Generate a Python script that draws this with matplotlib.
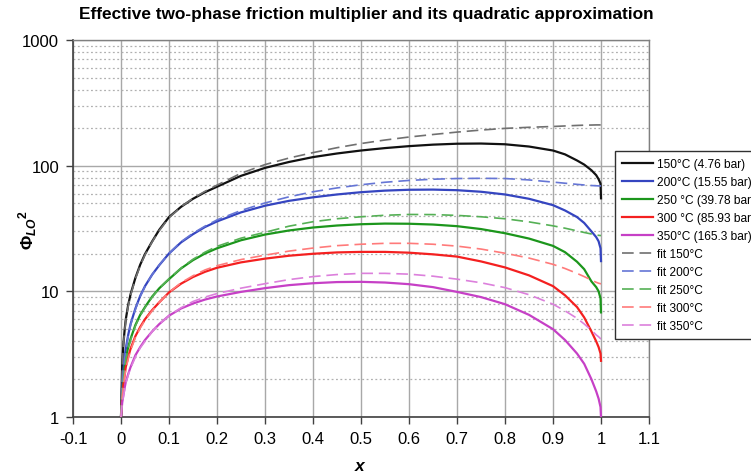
import matplotlib
matplotlib.use("Agg")
import matplotlib.pyplot as plt
from matplotlib.ticker import FixedLocator, LogLocator, NullFormatter

plt.rcParams["font.family"] = ["Liberation Sans", "DejaVu Sans"]
plt.rcParams["mathtext.fontset"] = "custom"
plt.rcParams["mathtext.rm"] = "Liberation Sans:bold"
plt.rcParams["mathtext.it"] = "Liberation Sans:bold:italic"
plt.rcParams["mathtext.bf"] = "Liberation Sans:bold"

# Vapour quality grid (refined near both ends)
x_q = [0, 0.0025, 0.005, 0.0075, 0.01, 0.015, 0.02, 0.03, 0.04, 0.05,
       0.065, 0.08, 0.1, 0.125, 0.15, 0.175, 0.2, 0.25, 0.3, 0.35,
       0.4, 0.45, 0.5, 0.55, 0.6, 0.65, 0.7, 0.75, 0.8, 0.85,
       0.9, 0.925, 0.95, 0.965, 0.98, 0.99, 0.995, 0.999, 1.0]

# Two-phase friction multiplier, full correlation
phi_150 = [1, 2.6, 3.8, 4.9, 6.0, 7.8, 9.5, 12.8, 16.3, 19.8,
           25, 31, 39, 47, 54.5, 61.5, 68, 83, 96, 107,
           117, 125, 132, 138, 143, 147, 149.5, 150, 148, 142,
           132, 123, 110, 102, 92, 84, 78, 72, 55]
phi_200 = [1, 1.8, 2.4, 3.0, 3.5, 4.5, 5.5, 7.3, 9.2, 11,
           13.6, 16.2, 20, 24.5, 28.5, 32.5, 36, 42.5, 48, 52.5,
           56, 59, 61.5, 63.3, 64.3, 64.5, 63.8, 62, 59, 54.5,
           48.5, 44, 39, 35, 30, 27, 25, 22, 17.4]
phi_250 = [1, 1.6, 2.0, 2.5, 2.9, 3.6, 4.2, 5.4, 6.5, 7.5,
           9.1, 10.6, 12.5, 15.2, 17.7, 20, 22, 25.5, 28.3, 30.5,
           32.2, 33.4, 34.2, 34.6, 34.5, 34, 33, 31.3, 29, 26.3,
           23, 20.5, 17.2, 15, 12, 10.8, 10, 8.8, 6.8]
phi_300 = [1, 1.5, 1.8, 2.15, 2.5, 3.0, 3.5, 4.4, 5.2, 6.0,
           7.1, 8.2, 9.8, 11.5, 13, 14.3, 15.4, 17, 18.2, 19.2,
           19.9, 20.4, 20.6, 20.6, 20.3, 19.7, 18.9, 17.3, 15.5, 13.4,
           11, 9.3, 7.5, 6.2, 4.8, 4.0, 3.6, 3.2, 2.8]
phi_350 = [1, 1.3, 1.5, 1.7, 1.9, 2.2, 2.5, 3.1, 3.6, 4.1,
           4.8, 5.5, 6.4, 7.3, 8.0, 8.6, 9.1, 9.9, 10.6, 11.2,
           11.6, 11.85, 11.9, 11.75, 11.4, 10.8, 9.9, 9.0, 7.9, 6.5,
           5.0, 4.1, 3.2, 2.65, 2.0, 1.6, 1.4, 1.2, 1.0]

# Quadratic approximation
fit_150 = [1, 2.5, 3.7, 4.8, 5.9, 7.6, 9.3, 12.6, 16, 19.5,
           24.8, 30.5, 38.5, 47, 55, 62.5, 70, 87, 102, 115,
           127, 139, 150, 160, 169, 177, 185, 192, 198, 202,
           205, 207, 209, 210, 210.5, 211, 211, 211, 211]
fit_200 = [1, 1.75, 2.35, 2.9, 3.4, 4.4, 5.4, 7.2, 9.1, 10.9,
           13.6, 16.3, 20, 24.8, 29, 33, 37, 44, 50.5, 56.5,
           62, 66.5, 70.5, 73.8, 76.3, 78, 79, 79.3, 79, 77,
           74, 72.5, 71, 70.2, 69.5, 69.2, 69, 69, 69]
fit_250 = [1, 1.55, 1.95, 2.45, 2.85, 3.5, 4.1, 5.3, 6.4, 7.4,
           9.0, 10.6, 12.6, 15.3, 18, 20.5, 22.8, 26.5, 29.5, 33,
           35.8, 37.8, 39.2, 40.3, 40.9, 40.8, 40.2, 39.2, 37.8, 35.7,
           33.2, 31.8, 30.3, 29.4, 28.6, 28.1, 27.9, 27.8, 27.8]
fit_300 = [1, 1.45, 1.75, 2.1, 2.4, 2.9, 3.4, 4.3, 5.1, 5.9,
           7.0, 8.2, 9.8, 11.7, 13.3, 14.8, 16, 17.9, 19.4, 20.9,
           22.1, 23.1, 23.7, 24.1, 24.1, 23.7, 22.9, 21.7, 20.1, 18.4,
           16.4, 15.2, 13.9, 13.1, 12.3, 11.8, 11.6, 11.5, 11.5]
fit_350 = [1, 1.28, 1.45, 1.65, 1.85, 2.15, 2.45, 3.0, 3.55, 4.0,
           4.8, 5.5, 6.4, 7.4, 8.3, 9.0, 9.6, 10.6, 11.5, 12.4,
           13.1, 13.6, 13.9, 13.9, 13.7, 13.2, 12.5, 11.7, 10.7, 9.4,
           7.9, 7.0, 6.1, 5.5, 4.9, 4.5, 4.35, 4.2, 4.2]

labels_model = ["150°C (4.76 bar)", "200°C (15.55 bar)", "250 °C (39.78 bar)",
                "300 °C (85.93 bar)", "350°C (165.3 bar)"]
labels_fit = ["fit 150°C", "fit 200°C", "fit 250°C", "fit 300°C", "fit 350°C"]

x_ticks = [-0.1, 0, 0.1, 0.2, 0.3, 0.4, 0.5, 0.6, 0.7, 0.8, 0.9, 1.0, 1.1]
x_tick_labels = ["-0.1", "0", "0.1", "0.2", "0.3", "0.4", "0.5", "0.6",
                 "0.7", "0.8", "0.9", "1", "1.1"]
y_ticks = [1, 10, 100, 1000]
y_tick_labels = ["1", "10", "100", "1000"]

model_colors = ["#111111", "#3545c0", "#1c961c", "#f42020", "#c640c6"]
fit_colors = ["#707070", "#6575d5", "#55b055", "#ff7a7a", "#dc80dc"]

fig = plt.figure(figsize=(7.51, 4.77), dpi=100)
ax = fig.add_axes([73 / 751, 1 - 418 / 477, (649 - 73) / 751, (418 - 41) / 477])

series_model = [phi_150, phi_200, phi_250, phi_300, phi_350]
series_fit = [fit_150, fit_200, fit_250, fit_300, fit_350]

handles = []
for ys, c, lab in zip(series_model, model_colors, labels_model):
    h, = ax.plot(x_q, ys, color=c, lw=1.6, label=lab, zorder=3)
    handles.append(h)
for ys, c, lab in zip(series_fit, fit_colors, labels_fit):
    h, = ax.plot(x_q, ys, color=c, lw=1.2, dashes=(7, 3.5), label=lab, zorder=4)
    handles.append(h)

ax.set_yscale("log")
ax.set_xlim(-0.1, 1.1)
ax.set_ylim(1, 1000)
ax.xaxis.set_major_locator(FixedLocator(x_ticks))
ax.set_xticklabels(x_tick_labels)
ax.yaxis.set_major_locator(FixedLocator(y_ticks))
ax.set_yticklabels(y_tick_labels)
ax.yaxis.set_minor_locator(LogLocator(base=10, subs=range(2, 10)))
ax.yaxis.set_minor_formatter(NullFormatter())

ax.grid(True, which="major", axis="both", color="#a8a8a8", lw=1.0, zorder=0)
ax.grid(True, which="minor", axis="y", color="#b0b0b0", lw=0.9,
        linestyle=(0, (1.5, 2.0)), zorder=0)

ax.tick_params(axis="both", which="major", direction="out", length=5,
               width=1, color="#404040", labelsize=12, pad=5)
ax.tick_params(axis="y", which="minor", length=0)

for side in ("left", "bottom"):
    ax.spines[side].set_color("#404040")
    ax.spines[side].set_linewidth(1.2)
for side in ("top", "right"):
    ax.spines[side].set_color("#808080")
    ax.spines[side].set_linewidth(1.0)

ax.set_xlabel(r"$x$", fontsize=12.5, labelpad=9)
ax.set_ylabel(r"$\Phi_{LO}{}^{2}$", fontsize=12.5)
ax.yaxis.set_label_coords((39 - 73) / 576, 0.5)

fig.suptitle("Effective two-phase friction multiplier and its quadratic approximation",
             fontsize=12.4, fontweight="bold", x=366 / 751, y=1 - 14 / 477, va="center")

leg = fig.legend(handles=handles, loc="upper left",
                 bbox_to_anchor=(615 / 751, 1 - 152 / 477), borderaxespad=0,
                 fontsize=8.6, frameon=True, fancybox=False, framealpha=1,
                 edgecolor="#303030", handlelength=2.6, handletextpad=0.3,
                 labelspacing=0.5, borderpad=0.6)
leg.get_frame().set_linewidth(1.0)

fig.savefig("out.png", dpi=100)
